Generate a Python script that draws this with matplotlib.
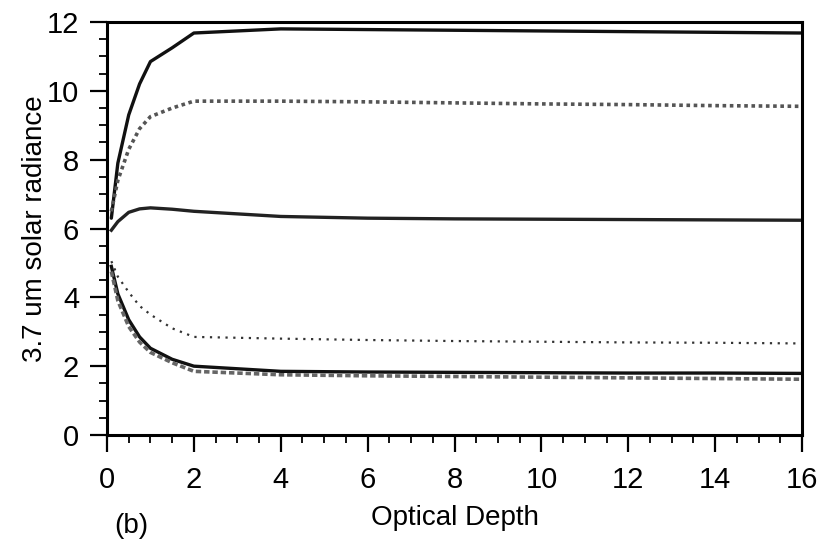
import matplotlib
matplotlib.use("Agg")
import matplotlib.pyplot as plt
from matplotlib.ticker import MultipleLocator

plt.rcParams['font.family'] = ['Liberation Sans', 'DejaVu Sans']

optical_depth = [0.1, 0.25, 0.5, 0.75, 1, 1.5, 2, 4, 6, 8, 10, 12, 14, 16]
curve1 = [6.3, 7.9, 9.3, 10.2, 10.85, 11.25, 11.68, 11.8, 11.78, 11.76, 11.74, 11.72, 11.7, 11.68]
curve2 = [6.5, 7.4, 8.3, 8.9, 9.25, 9.5, 9.7, 9.7, 9.68, 9.65, 9.62, 9.6, 9.57, 9.55]
curve3 = [5.95, 6.2, 6.47, 6.57, 6.6, 6.56, 6.5, 6.35, 6.3, 6.28, 6.27, 6.26, 6.25, 6.24]
curve4 = [5.05, 4.6, 4.15, 3.75, 3.5, 3.1, 2.85, 2.8, 2.76, 2.73, 2.71, 2.69, 2.68, 2.66]
curve5 = [4.9, 4.1, 3.35, 2.85, 2.52, 2.2, 2.0, 1.85, 1.83, 1.82, 1.81, 1.8, 1.8, 1.79]
curve6 = [4.75, 3.9, 3.15, 2.7, 2.4, 2.1, 1.85, 1.75, 1.72, 1.7, 1.68, 1.66, 1.64, 1.62]

x_ticks = [0, 2, 4, 6, 8, 10, 12, 14, 16]
y_ticks = [0, 2, 4, 6, 8, 10, 12]

fig = plt.figure(figsize=(8.23, 5.40), dpi=100)
ax = fig.add_axes([107/823, 1 - 435/540, (802 - 107)/823, (435 - 22)/540])

ax.plot(optical_depth, curve1, color='#111111', lw=2.4, solid_capstyle='round')
ax.plot(optical_depth, curve2, color='#555555', lw=2.6, linestyle=(0, (1, 1)))
ax.plot(optical_depth, curve3, color='#222222', lw=2.4)
ax.plot(optical_depth, curve4, color='#333333', lw=1.6, linestyle=(0, (1, 2.5)))
ax.plot(optical_depth, curve5, color='#111111', lw=2.4)
ax.plot(optical_depth, curve6, color='#666666', lw=2.6, linestyle=(0, (1.5, 0.8)))

ax.set_xlim(0, 16)
ax.set_ylim(0, 12)
ax.set_xticks(x_ticks)
ax.set_yticks(y_ticks)
ax.xaxis.set_minor_locator(MultipleLocator(0.5))
ax.yaxis.set_minor_locator(MultipleLocator(0.5))

for s in ax.spines.values():
    s.set_linewidth(2.2)
    s.set_color('black')

ax.tick_params(axis='both', which='major', direction='out', length=12, width=1.6,
               labelsize=21, top=False, right=False)
ax.tick_params(axis='both', which='minor', direction='out', length=6, width=1.3,
               top=False, right=False)
ax.tick_params(axis='x', which='major', pad=10)
ax.tick_params(axis='y', which='major', pad=8)

ax.set_xlabel('Optical Depth', fontsize=20)
ax.set_ylabel('3.7 um solar radiance', fontsize=20)
ax.xaxis.set_label_coords(0.5, (435 - 505) / 413)
ax.yaxis.set_label_coords((48 - 107) / 695, 0.5)

fig.text(114/823, 1/540, '(b)', fontsize=20, va='bottom', ha='left')

fig.savefig('out.png', dpi=100)
